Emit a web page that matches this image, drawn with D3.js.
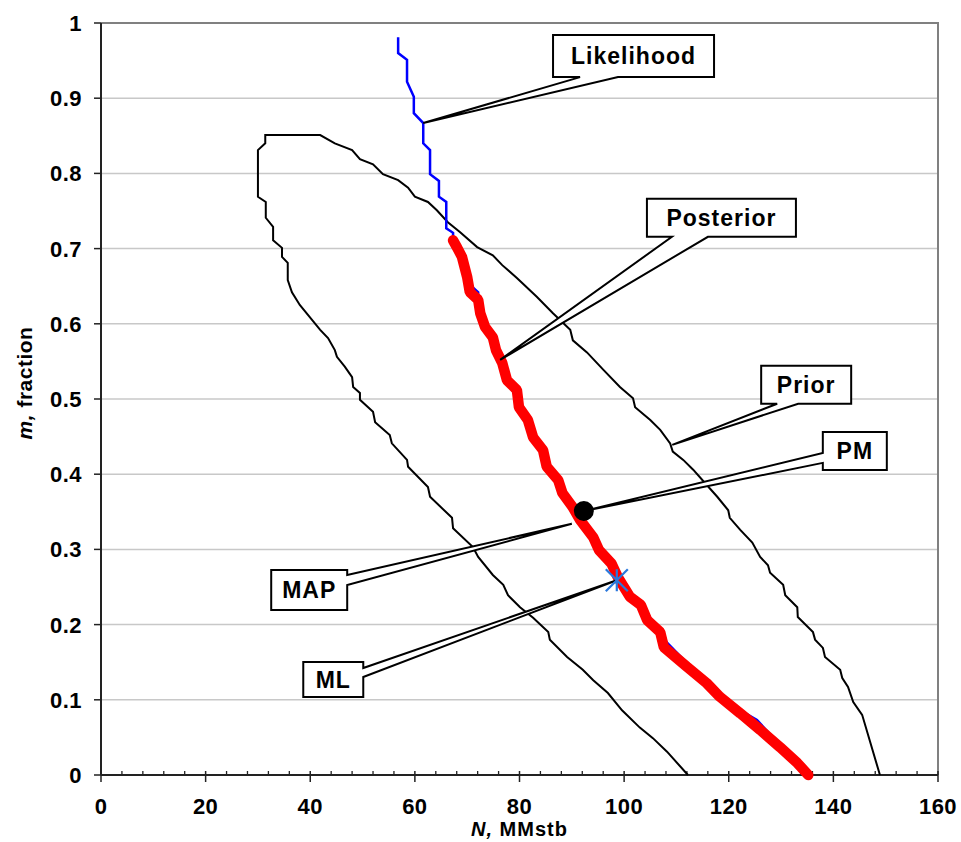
<!DOCTYPE html>
<html>
<head>
<meta charset="utf-8">
<script src="https://cdn.jsdelivr.net/npm/d3@7"></script>
<style>
  body { margin: 0; background: #fff; }
  text { font-family: Arial, "Liberation Sans", sans-serif; font-weight: bold; fill: #000; }
</style>
</head>
<body>
<svg id="chart"></svg>
<script>
// Prior contour (N in MMstb, m fraction), from bottom-left round the top to bottom-right
const priorN = [112.2, 108.2, 105.5, 103.0, 99.6, 96.9, 94.1, 92.1, 89.1, 85.8, 85.5, 82.6, 80.1, 77.8, 76.9, 74.9,
  72.1, 71.1, 67.3, 67.1, 62.9, 62.5, 58.7, 58.5, 55.6, 55.2, 52.4, 52.0, 49.5, 49.5, 48.2, 48.0, 46.6, 45.1, 44.7,
  43.4, 41.9, 38.0, 36.5, 35.7, 35.7, 34.6, 34.6, 32.9, 32.9, 31.5, 31.5, 30.0, 30.0, 31.4, 31.4, 41.9,
  44.7, 48.0, 49.5, 52.0, 53.9, 56.8, 58.7, 60.0, 62.5, 64.2, 66.3, 68.6, 71.9, 74.9, 76.7, 79.5, 83.3, 86.4, 89.7,
  90.2, 92.9, 96.0, 99.2, 101.7, 102.1, 105.0, 106.9, 108.8, 109.3, 111.3, 113.2, 115.5, 117.8, 119.9, 120.2, 122.2,
  124.5, 126.0, 127.5, 127.9, 130.4, 130.8, 133.1, 133.2, 136.1, 136.5, 138.0, 138.4, 141.3, 141.7, 142.8, 143.8,
  145.5, 148.9];
const priorM = [0, 0.031, 0.049, 0.063, 0.086, 0.109, 0.126, 0.140, 0.157, 0.180, 0.190, 0.209, 0.223, 0.239, 0.253, 0.266,
  0.290, 0.303, 0.328, 0.342, 0.370, 0.383, 0.410, 0.419, 0.441, 0.452, 0.469, 0.483, 0.499, 0.508, 0.516, 0.529, 0.543, 0.556, 0.565,
  0.581, 0.592, 0.625, 0.642, 0.658, 0.681, 0.689, 0.701, 0.711, 0.729, 0.741, 0.762, 0.769, 0.831, 0.840, 0.851, 0.851,
  0.840, 0.831, 0.819, 0.812, 0.799, 0.791, 0.781, 0.769, 0.762, 0.751, 0.735, 0.722, 0.702, 0.691, 0.678, 0.661, 0.636, 0.614, 0.592,
  0.578, 0.562, 0.539, 0.516, 0.501, 0.489, 0.472, 0.459, 0.441, 0.430, 0.419, 0.406, 0.388, 0.370, 0.352, 0.342, 0.326,
  0.309, 0.290, 0.279, 0.269, 0.253, 0.239, 0.223, 0.210, 0.190, 0.180, 0.169, 0.157, 0.140, 0.129, 0.117, 0.097,
  0.080, 0];

// Likelihood ridge
const likeN = [56.8, 56.8, 58.5, 58.5, 59.8, 59.8, 61.6, 61.6, 62.9, 62.9, 64.6, 64.6, 66.0, 66.0, 67.3, 67.3, 68.6,
  70.5, 72.1, 72.1, 73.4, 75.9, 77.6, 80.5, 83.0, 85.8, 88.7, 92.1, 96.0, 98.8, 101.1, 104.4, 108.2, 115.8, 122.2,
  125.4, 129.8, 135.9];
const likeM = [0.981, 0.960, 0.951, 0.922, 0.902, 0.880, 0.867, 0.840, 0.831, 0.799, 0.790, 0.769, 0.762, 0.727, 0.721, 0.702, 0.695,
  0.652, 0.642, 0.632, 0.596, 0.565, 0.525, 0.489, 0.449, 0.410, 0.375, 0.339, 0.299, 0.263, 0.237, 0.215, 0.176, 0.122, 0.086,
  0.073, 0.040, 0];

// Posterior ridge
const postN = [67.3, 68.1, 69.0, 70.0, 70.5, 72.1, 72.5, 73.4, 74.9, 75.5, 76.7, 77.6, 79.5, 79.9, 81.6, 82.6, 84.5, 85.2,
  87.4, 88.2, 90.2, 91.6, 94.1, 95.2, 97.6, 98.8, 101.1, 103.2, 104.4, 106.9, 107.6, 112.0, 115.8, 118.3, 122.2, 126.0, 129.8, 133.1, 135.2];
const postM = [0.711, 0.701, 0.689, 0.662, 0.642, 0.632, 0.614, 0.596, 0.582, 0.565, 0.548, 0.525, 0.512, 0.489, 0.472, 0.449, 0.432, 0.410,
  0.392, 0.375, 0.356, 0.339, 0.316, 0.299, 0.281, 0.263, 0.237, 0.226, 0.206, 0.190, 0.170, 0.144, 0.122, 0.104, 0.082, 0.060, 0.037, 0.016, 0];

const pmPoint = [92.3, 0.351];
const mlPoint = [98.6, 0.259];
const mapPoint = [90.0, 0.334];

const xTicks = [0, 20, 40, 60, 80, 100, 120, 140, 160];
const yTicks = [0, 0.1, 0.2, 0.3, 0.4, 0.5, 0.6, 0.7, 0.8, 0.9, 1];
const yTickLabels = ["0", "0.1", "0.2", "0.3", "0.4", "0.5", "0.6", "0.7", "0.8", "0.9", "1"];

var margin = { top: 23, right: 23, bottom: 67, left: 101 };
var W = 961, H = 842;
var width = W - margin.left - margin.right;
var height = H - margin.top - margin.bottom;

var svg = d3.select("#chart").attr("width", W).attr("height", H);
var g = svg.append("g").attr("transform", "translate(" + margin.left + "," + margin.top + ")");

var x = d3.scaleLinear().domain([0, 160]).range([0, width]);
var y = d3.scaleLinear().domain([0, 1]).range([height, 0]);

// gridlines
g.selectAll(".grid").data(yTicks.filter(d => d > 0 && d < 1)).enter().append("line")
  .attr("x1", 0).attr("x2", width)
  .attr("y1", d => y(d)).attr("y2", d => y(d))
  .attr("stroke", "#c8c8c8").attr("stroke-width", 1.5);

// top and right frame
g.append("path")
  .attr("d", "M0," + y(1) + "H" + x(160) + "V" + y(0))
  .attr("fill", "none").attr("stroke", "#808080").attr("stroke-width", 2);

// x axis: minor ticks inside, major ticks crossing
var minor = d3.range(0, 161, 4).filter(d => d % 20 !== 0);
g.selectAll(".minor").data(minor).enter().append("line")
  .attr("x1", d => x(d)).attr("x2", d => x(d))
  .attr("y1", height - 4).attr("y2", height)
  .attr("stroke", "#222").attr("stroke-width", 1.3);
g.selectAll(".major").data(xTicks).enter().append("line")
  .attr("x1", d => x(d)).attr("x2", d => x(d))
  .attr("y1", height - 4).attr("y2", height + 7)
  .attr("stroke", "#222").attr("stroke-width", 1.5);
g.append("line").attr("x1", 0).attr("x2", width).attr("y1", height).attr("y2", height)
  .attr("stroke", "#222").attr("stroke-width", 2);
g.selectAll(".xlab").data(xTicks).enter().append("text")
  .attr("x", d => x(d)).attr("y", height + 39)
  .attr("text-anchor", "middle").style("font-size", "22px").style("letter-spacing", "0.5px")
  .text(d => d);

// y axis
g.selectAll(".ytick").data(yTicks).enter().append("line")
  .attr("x1", -7).attr("x2", 0)
  .attr("y1", d => y(d)).attr("y2", d => y(d))
  .attr("stroke", "#222").attr("stroke-width", 1.5);
g.append("line").attr("x1", 0).attr("x2", 0).attr("y1", 0).attr("y2", height)
  .attr("stroke", "#222").attr("stroke-width", 2);
g.selectAll(".ylab").data(yTicks).enter().append("text")
  .attr("x", -19).attr("y", d => y(d)).attr("dy", "0.36em")
  .attr("text-anchor", "end").style("font-size", "22px").style("letter-spacing", "0.5px")
  .text((d, i) => yTickLabels[i]);

// axis titles
var xt = svg.append("text").attr("x", margin.left + width / 2).attr("y", 836)
  .attr("text-anchor", "middle").style("font-size", "20px").style("letter-spacing", "1px");
xt.append("tspan").style("font-style", "italic").text("N,");
xt.append("tspan").text(" MMstb");
var yt = svg.append("text").attr("transform", "translate(32,383) rotate(-90)")
  .attr("text-anchor", "middle").style("font-size", "21px").style("letter-spacing", "0.5px");
yt.append("tspan").style("font-style", "italic").text("m,");
yt.append("tspan").text(" fraction");

// series
function seriesLine(ns, ms) {
  return d3.line().x((d, i) => x(ns[i])).y((d, i) => y(ms[i]))(ns);
}
g.append("path").attr("d", seriesLine(priorN, priorM))
  .attr("fill", "none").attr("stroke", "#000").attr("stroke-width", 2);
g.append("path").attr("d", seriesLine(likeN, likeM))
  .attr("fill", "none").attr("stroke", "#0000ff").attr("stroke-width", 2.5);
g.append("path").attr("d", seriesLine(postN, postM))
  .attr("fill", "none").attr("stroke", "#ff0000").attr("stroke-width", 10.5)
  .attr("stroke-linejoin", "bevel").attr("stroke-linecap", "round");

// callouts
var callouts = [
  { text: "Likelihood", cx: 101.8, cy: 0.956, w: 161, h: 42, side: "bottom", a: 27, b: 65, tip: [61.6, 0.867] },
  { text: "Posterior", cx: 118.6, cy: 0.741, w: 149, h: 38, side: "bottom", a: 25, b: 61, tip: [76.3, 0.552] },
  { text: "Prior", cx: 134.8, cy: 0.519, w: 90, h: 38, side: "bottom", a: 16, b: 37, tip: [109.2, 0.439] },
  { text: "PM", cx: 144.1, cy: 0.431, w: 64, h: 38, side: "left", a: 21, b: 31, tip: pmPoint },
  { text: "MAP", cx: 39.8, cy: 0.246, w: 76, h: 40, side: "right", a: 5, b: 15, tip: mapPoint },
  { text: "ML", cx: 44.4, cy: 0.127, w: 60, h: 35, side: "right", a: 6, b: 15, tip: mlPoint }
];

function calloutPath(c) {
  var x0 = x(c.cx) - c.w / 2, y0 = y(c.cy) - c.h / 2;
  var x1 = x0 + c.w, y1 = y0 + c.h;
  var tx = x(c.tip[0]), ty = y(c.tip[1]);
  var p = "M" + x0 + "," + y0 + "L" + x1 + "," + y0;
  if (c.side === "right") p += "L" + x1 + "," + (y0 + c.a) + "L" + tx + "," + ty + "L" + x1 + "," + (y0 + c.b);
  p += "L" + x1 + "," + y1;
  if (c.side === "bottom") p += "L" + (x0 + c.b) + "," + y1 + "L" + tx + "," + ty + "L" + (x0 + c.a) + "," + y1;
  p += "L" + x0 + "," + y1;
  if (c.side === "left") p += "L" + x0 + "," + (y0 + c.b) + "L" + tx + "," + ty + "L" + x0 + "," + (y0 + c.a);
  return p + "Z";
}

var cg = g.selectAll(".callout").data(callouts).enter().append("g");
cg.append("path").attr("d", calloutPath)
  .attr("fill", "#fff").attr("stroke", "#000").attr("stroke-width", 2).attr("stroke-linejoin", "miter");
cg.append("text")
  .attr("x", d => x(d.cx)).attr("y", d => y(d.cy)).attr("dy", "0.36em")
  .attr("text-anchor", "middle").style("font-size", "23px").style("letter-spacing", "1px")
  .text(d => d.text);

// PM marker
g.append("circle").attr("cx", x(pmPoint[0])).attr("cy", y(pmPoint[1])).attr("r", 10).attr("fill", "#000");

// ML marker (star: X plus vertical bar)
var mx = x(mlPoint[0]), my = y(mlPoint[1]), s = 11;
g.append("path")
  .attr("d", "M" + (mx - s) + "," + (my - s) + "L" + (mx + s) + "," + (my + s) +
    "M" + (mx + s) + "," + (my - s) + "L" + (mx - s) + "," + (my + s) +
    "M" + mx + "," + (my - s) + "L" + mx + "," + (my + s))
  .attr("stroke", "#2a78dc").attr("stroke-width", 2.2).attr("fill", "none");
</script>
</body>
</html>
